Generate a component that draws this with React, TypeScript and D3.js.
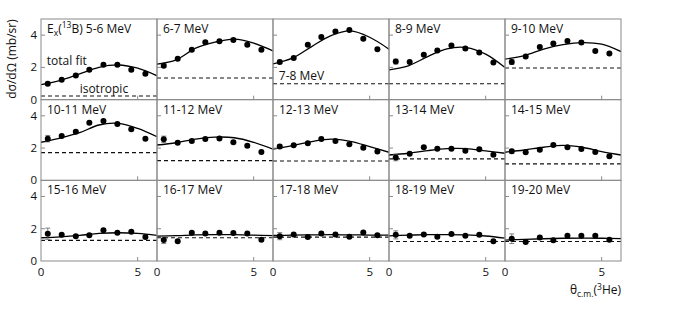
import * as d3 from "d3";

// energy bins, one panel each
const energyBins = [
  "5-6 MeV", "6-7 MeV", "7-8 MeV", "8-9 MeV", "9-10 MeV",
  "10-11 MeV", "11-12 MeV", "12-13 MeV", "13-14 MeV", "14-15 MeV",
  "15-16 MeV", "16-17 MeV", "17-18 MeV", "18-19 MeV", "19-20 MeV",
];

// theta c.m. of the data points (deg)
const angles = [0.35, 1.07, 1.8, 2.5, 3.23, 3.95, 4.67, 5.4];
// theta at which the fit curve is read
const fitAngles = [0, 1, 2, 3, 4, 5, 6];

// measured d sigma / d Omega (mb/sr)
const measured: number[][] = [
  [0.99, 1.23, 1.5, 1.85, 2.16, 2.16, 1.85, 1.6],
  [2.1, 2.53, 3.09, 3.56, 3.62, 3.7, 3.4, 3.09],
  [2.33, 2.59, 3.4, 3.89, 4.22, 4.32, 3.77, 3.13],
  [2.36, 2.33, 2.78, 3.04, 3.35, 3.17, 2.92, 2.3],
  [2.33, 2.67, 3.27, 3.48, 3.64, 3.54, 3.02, 2.86],
  [2.58, 2.75, 3.01, 3.57, 3.67, 3.49, 3.16, 2.58],
  [2.54, 2.33, 2.44, 2.56, 2.6, 2.36, 2.15, 1.76],
  [2.09, 2.17, 2.3, 2.56, 2.44, 2.23, 2.02, 1.78],
  [1.41, 1.64, 2.05, 1.96, 1.96, 1.84, 1.93, 1.59],
  [1.8, 1.74, 1.9, 2.19, 2.05, 1.94, 1.76, 1.49],
  [1.69, 1.62, 1.54, 1.6, 1.9, 1.75, 1.81, 1.48],
  [1.3, 1.23, 1.75, 1.71, 1.75, 1.73, 1.71, 1.31],
  [1.54, 1.64, 1.48, 1.71, 1.64, 1.5, 1.77, 1.59],
  [1.62, 1.56, 1.65, 1.5, 1.67, 1.56, 1.62, 1.23],
  [1.38, 1.17, 1.46, 1.28, 1.56, 1.56, 1.56, 1.31],
];

// error of the first (most forward) point, the others hide under the marker
const firstErrors = [0.1, 0.1, 0.1, 0.15, 0.15, 0.2, 0.2, 0.12, 0.2, 0.12, 0.35, 0.22, 0.22, 0.25, 0.3];
const otherError = 0.08;

// total fit, read at fitAngles
const totalFit: number[][] = [
  [0.93, 1.2, 1.6, 2.0, 2.15, 1.95, 1.48],
  [2.2, 2.47, 3.19, 3.56, 3.75, 3.5, 3.02],
  [2.22, 2.57, 3.29, 3.97, 4.26, 3.87, 3.13],
  [1.85, 2.1, 2.67, 3.15, 3.23, 2.82, 1.99],
  [2.51, 2.73, 3.13, 3.41, 3.54, 3.44, 2.98],
  [2.36, 2.62, 2.95, 3.43, 3.53, 3.22, 2.7],
  [2.19, 2.33, 2.56, 2.68, 2.64, 2.36, 1.93],
  [1.93, 2.15, 2.4, 2.56, 2.42, 2.09, 1.74],
  [1.57, 1.68, 1.84, 1.96, 1.96, 1.82, 1.68],
  [1.74, 1.88, 2.05, 2.17, 2.05, 1.78, 1.57],
  [1.44, 1.5, 1.59, 1.71, 1.75, 1.71, 1.59],
  [1.54, 1.57, 1.62, 1.64, 1.63, 1.6, 1.57],
  [1.58, 1.6, 1.62, 1.63, 1.62, 1.61, 1.6],
  [1.56, 1.6, 1.63, 1.64, 1.62, 1.55, 1.42],
  [1.3, 1.34, 1.38, 1.41, 1.42, 1.41, 1.39],
];

// isotropic component
const isotropic = [
  0.23, 1.34, 0.99, 0.99, 1.96,
  1.72, 1.22, 1.2, 1.33, 1.02,
  1.28, 1.44, 1.48, 1.21, 1.21,
];

const yTicks = [0, 2, 4];
const xTicks = [0, 5];

const width = 695;
const height = 315;
const font = "'Open Sans', 'DejaVu Sans', sans-serif";
const frame = "#8a8a8a";

const App = () => {
  const col = d3.scaleBand<number>().domain(d3.range(5)).range([41, 621]);
  const row = d3.scaleBand<number>().domain(d3.range(3)).range([19, 261]);
  const pw = col.bandwidth();
  const ph = row.bandwidth();

  const x = d3.scaleLinear().domain([0, 6]).range([0, pw]);
  const y = d3.scaleLinear().domain([0, 5]).range([ph, 0]);

  const fitLine = d3
    .line<number>()
    .x((_, i) => x(fitAngles[i]))
    .y((d) => y(d))
    .curve(d3.curveCatmullRom.alpha(0.5));

  return (
    <svg
      width={width}
      height={height}
      style={{ position: "absolute", left: 0, top: 0, background: "#fff" }}
      fontFamily={font}
    >
      <defs>
        <clipPath id="panel-clip">
          <rect x={0} y={0} width={pw} height={ph} />
        </clipPath>
      </defs>

      {energyBins.map((label, k) => {
        const c = k % 5;
        const r = Math.floor(k / 5);
        const vals = measured[k];
        return (
          <g key={label} transform={`translate(${col(c)},${row(r)})`}>
            <g clipPath="url(#panel-clip)">
              <line
                x1={0}
                x2={pw}
                y1={y(isotropic[k])}
                y2={y(isotropic[k])}
                stroke="#111"
                strokeWidth={1.1}
                strokeDasharray="4,3"
              />
              <path d={fitLine(totalFit[k]) || ""} fill="none" stroke="#000" strokeWidth={1.3} />
            </g>

            {vals.map((v, i) => {
              const e = i === 0 ? firstErrors[k] : otherError;
              return (
                <g key={i} stroke="#666" strokeWidth={0.8}>
                  <line x1={x(angles[i])} x2={x(angles[i])} y1={y(v - e)} y2={y(v + e)} />
                  <line x1={x(angles[i]) - 2.5} x2={x(angles[i]) + 2.5} y1={y(v - e)} y2={y(v - e)} />
                  <line x1={x(angles[i]) - 2.5} x2={x(angles[i]) + 2.5} y1={y(v + e)} y2={y(v + e)} />
                </g>
              );
            })}
            {vals.map((v, i) => (
              <circle key={i} cx={x(angles[i])} cy={y(v)} r={3} fill="#000" />
            ))}

            {/* ticks */}
            {yTicks.slice(1).map((t) => (
              <line key={t} x1={0} x2={4} y1={y(t)} y2={y(t)} stroke={frame} />
            ))}
            {xTicks.slice(1).map((t) => (
              <line key={t} x1={x(t)} x2={x(t)} y1={ph} y2={ph - 4} stroke={frame} />
            ))}
            <rect x={0} y={0} width={pw} height={ph} fill="none" stroke={frame} strokeWidth={1} />

            {k === 0 ? (
              <text x={6} y={14} fontSize={12} fill="#111">
                E
                <tspan fontSize={8.5} dy={3}>x</tspan>
                <tspan dy={-3}>(</tspan>
                <tspan fontSize={8.5} dy={-5}>13</tspan>
                <tspan dy={5}>B) {label}</tspan>
              </text>
            ) : k === 2 ? (
              <text x={x(0.3)} y={y(1.23)} fontSize={12} fill="#111">
                {label}
              </text>
            ) : (
              <text x={6} y={14} fontSize={12} fill="#111">
                {label}
              </text>
            )}

            {k === 0 && (
              <>
                <text x={x(0.3)} y={y(2.16)} fontSize={12} fill="#111">
                  total fit
                </text>
                <text x={x(2.0)} y={y(0.43)} fontSize={12} fill="#111">
                  isotropic
                </text>
              </>
            )}

            {c === 0 &&
              yTicks.map((t) => (
                <text key={t} x={-4} y={y(t)} dy="0.35em" fontSize={11.5} textAnchor="end" fill="#111">
                  {t}
                </text>
              ))}
            {r === 2 &&
              xTicks.map((t) => (
                <text key={t} x={x(t)} y={ph + 15} fontSize={11.5} textAnchor="middle" fill="#111">
                  {t}
                </text>
              ))}
          </g>
        );
      })}

      <text transform="translate(16,59) rotate(-90)" textAnchor="middle" fontSize={12} fill="#111">
        dσ/dΩ (mb/sr)
      </text>

      <text x={621} y={294} textAnchor="end" fontSize={12} fill="#111">
        θ
        <tspan fontSize={8.5} dy={3}>c.m.</tspan>
        <tspan dy={-3}>(</tspan>
        <tspan fontSize={8.5} dy={-4}>3</tspan>
        <tspan dy={4}>He)</tspan>
      </text>
    </svg>
  );
};

export default App;
